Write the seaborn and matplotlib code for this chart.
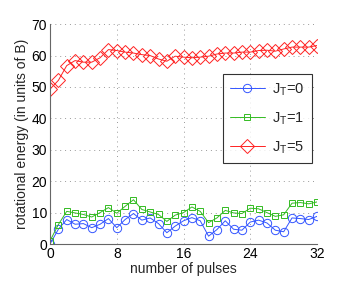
import numpy as np
import pandas as pd
import matplotlib
matplotlib.use("Agg")
import matplotlib.pyplot as plt
import seaborn as sns

# values
pulses = list(range(33))
jt0 = [0, 4.7, 7.8, 6.3, 6.5, 5.2, 6.3, 8.1, 5.2, 7.8, 9.7, 7.6, 8.3, 6.5, 3.6, 5.7,
       7.4, 8.4, 7.4, 2.5, 4.6, 7.4, 4.7, 4.4, 7.0, 7.6, 6.7, 4.4, 3.9, 8.3, 8.1, 7.8, 8.8]
jt1 = [1.0, 6.2, 10.4, 9.9, 9.4, 8.6, 10.0, 11.6, 9.8, 12.0, 14.1, 11.0, 10.2, 9.4, 7.2, 9.2,
       10.0, 11.8, 10.4, 6.8, 8.3, 10.7, 9.9, 9.7, 11.4, 11.2, 10.0, 8.8, 9.3, 13.0, 13.2, 12.8, 13.4]
jt5 = [49.3, 52.1, 56.8, 58.4, 57.9, 57.9, 59.3, 61.9, 61.6, 61.1, 60.8, 60.3, 60.0, 58.9, 58.2, 59.8,
       59.5, 59.3, 59.5, 59.8, 60.5, 60.8, 60.8, 61.1, 61.1, 61.6, 61.7, 61.4, 62.1, 62.7, 62.7, 62.7, 63.2]

labels = ["J$_T$=0", "J$_T$=1", "J$_T$=5"]
colors = ["#3355ff", "#33bb22", "#ff2222"]
markers = ["o", "s", "D"]
msizes = [6, 5, 6.8]

df = pd.DataFrame({"pulses": pulses * 3,
                   "energy": jt0 + jt1 + jt5,
                   "series": [labels[0]] * 33 + [labels[1]] * 33 + [labels[2]] * 33})

sns.set_style("white")
plt.rcParams["font.family"] = ["Liberation Sans", "DejaVu Sans"]
plt.rcParams["mathtext.default"] = "regular"
plt.rcParams["font.size"] = 10

fig, ax = plt.subplots(figsize=(3.38, 3.02), dpi=100)
fig.subplots_adjust(left=0.148, right=0.938, top=0.92, bottom=0.192)

for lab, c, m, ms in zip(labels, colors, markers, msizes):
    sub = df[df["series"] == lab]
    sns.lineplot(data=sub, x="pulses", y="energy", ax=ax, color=c, marker=m,
                 markersize=ms, markerfacecolor="none", markeredgecolor=c,
                 markeredgewidth=0.7, linewidth=0.7, label=lab)

ax.set_xlim(0, 32)
ax.set_ylim(0, 70)
ax.set_xticks([0, 8, 16, 24, 32])
ax.set_yticks(range(0, 71, 10))
ax.set_xlabel("number of pulses", labelpad=1)
ax.set_ylabel("rotational energy (in units of B)", labelpad=2)
ax.grid(True, linestyle=(0, (1, 4)), color="#999999", linewidth=0.7)
for s in ["top", "right"]:
    ax.spines[s].set_visible(False)
for s in ["left", "bottom"]:
    ax.spines[s].set_color("#666666")
    ax.spines[s].set_linewidth(0.8)
ax.tick_params(direction="in", length=2, pad=2, colors="black")

leg = ax.legend(loc="upper right", bbox_to_anchor=(0.98, 0.772), frameon=True,
                fancybox=False, edgecolor="black", handlelength=2.4,
                handletextpad=0.5, borderpad=0.5, labelspacing=0.85, fontsize=10.5,
                borderaxespad=0)
leg.get_frame().set_linewidth(0.8)

fig.savefig("out.png", dpi=100)
